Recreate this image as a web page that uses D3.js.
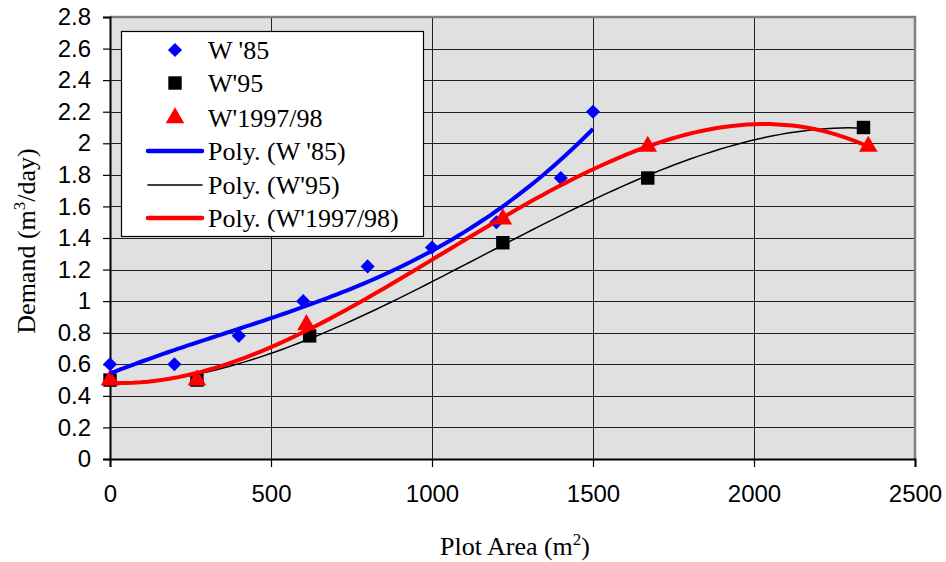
<!DOCTYPE html>
<html>
<head>
<meta charset="utf-8">
<script src="https://cdn.jsdelivr.net/npm/d3@7"></script>
<style>
  body { margin: 0; background: #fff; }
</style>
</head>
<body>
<div id="chart-area"></div>
<script>
// data
var x85 = [0, 200, 400, 600, 800, 1000, 1200, 1400, 1500];
var y85 = [0.6, 0.6, 0.78, 1.0, 1.22, 1.34, 1.5, 1.78, 2.2];

var x95 = [0, 270, 620, 1220, 1670, 2340];
var y95 = [0.5, 0.5, 0.78, 1.37, 1.78, 2.1];

var x97 = [0, 270, 610, 1220, 1670, 2355];
var y97 = [0.5, 0.5, 0.85, 1.52, 1.98, 1.98];

var xTicks = [0, 500, 1000, 1500, 2000, 2500];
var yTicks = [0, 0.2, 0.4, 0.6, 0.8, 1, 1.2, 1.4, 1.6, 1.8, 2, 2.2, 2.4, 2.6, 2.8];

var width = 946, height = 562;
var margin = {top: 17, right: 31, bottom: 103, left: 110};
var w = width - margin.left - margin.right;
var h = height - margin.top - margin.bottom;

var svg = d3.select('#chart-area')
  .append('svg')
    .attr('width', width)
    .attr('height', height);

var g = svg.append('g')
  .attr('transform', 'translate(' + margin.left + ',' + margin.top + ')');

var x = d3.scaleLinear().domain([0, 2500]).range([0, w]);
var y = d3.scaleLinear().domain([0, 2.8]).range([h, 0]);

// plot background
g.append('rect')
  .attr('width', w).attr('height', h)
  .attr('fill', '#e0e0e0');

// grid
g.append('g').selectAll('line').data(yTicks.slice(1)).enter()
  .append('line')
    .attr('x1', 0).attr('x2', w)
    .attr('y1', d => Math.round(y(d)) + 0.5).attr('y2', d => Math.round(y(d)) + 0.5)
    .attr('stroke', '#222').attr('stroke-width', 1);
g.append('g').selectAll('line').data(xTicks.slice(1, -1)).enter()
  .append('line')
    .attr('y1', 0).attr('y2', h)
    .attr('x1', d => Math.round(x(d)) + 0.5).attr('x2', d => Math.round(x(d)) + 0.5)
    .attr('stroke', '#222').attr('stroke-width', 1);

// gray frame top & right
g.append('path')
  .attr('d', 'M0,0H' + w + 'V' + h)
  .attr('fill', 'none').attr('stroke', '#808080').attr('stroke-width', 2.5);

// axes
var yAxis = d3.axisLeft(y).tickValues(yTicks).tickSize(7).tickPadding(12)
  .tickFormat(d3.format('~g'));
var xAxis = d3.axisBottom(x).tickValues(xTicks).tickSize(8).tickPadding(18)
  .tickFormat(d3.format('d'));

var ya = g.append('g').call(yAxis);
var xa = g.append('g').attr('transform', 'translate(0,' + h + ')').call(xAxis);
[ya, xa].forEach(function (a) {
  a.select('.domain').attr('stroke', '#000').attr('stroke-width', 2);
  a.selectAll('.tick line').attr('stroke', '#000').attr('stroke-width', 1.2);
  a.selectAll('text')
    .attr('font-family', 'Liberation Sans, Arial, sans-serif')
    .attr('font-size', '24px')
    .attr('fill', '#000');
});

// polynomial least squares fit
function polyfit(xs, ys, order) {
  var s = 1000;
  var n = order + 1;
  var A = [], b = [];
  for (var i = 0; i < n; i++) {
    A.push(new Array(n).fill(0));
    b.push(0);
  }
  xs.forEach(function (xv, k) {
    var t = xv / s;
    for (var i = 0; i < n; i++) {
      for (var j = 0; j < n; j++) A[i][j] += Math.pow(t, i + j);
      b[i] += ys[k] * Math.pow(t, i);
    }
  });
  // gaussian elimination
  for (var c = 0; c < n; c++) {
    var p = c;
    for (var r = c + 1; r < n; r++) if (Math.abs(A[r][c]) > Math.abs(A[p][c])) p = r;
    var tmp = A[c]; A[c] = A[p]; A[p] = tmp;
    var tb = b[c]; b[c] = b[p]; b[p] = tb;
    for (var r2 = c + 1; r2 < n; r2++) {
      var f = A[r2][c] / A[c][c];
      for (var k2 = c; k2 < n; k2++) A[r2][k2] -= f * A[c][k2];
      b[r2] -= f * b[c];
    }
  }
  var coef = new Array(n).fill(0);
  for (var i2 = n - 1; i2 >= 0; i2--) {
    var sum = b[i2];
    for (var j2 = i2 + 1; j2 < n; j2++) sum -= A[i2][j2] * coef[j2];
    coef[i2] = sum / A[i2][i2];
  }
  return function (xv) {
    var t = xv / s, v = 0;
    for (var i = 0; i < n; i++) v += coef[i] * Math.pow(t, i);
    return v;
  };
}

function trend(xs, ys, order) {
  var f = polyfit(xs, ys, order);
  var lo = d3.min(xs), hi = d3.max(xs);
  return d3.range(0, 101).map(function (i) {
    var xv = lo + (hi - lo) * i / 100;
    return [xv, f(xv)];
  });
}

var line = d3.line().x(d => x(d[0])).y(d => y(d[1]));

var series = [
  {name: "W '85", xs: x85, ys: y85, color: '#0000ff', shape: d3.symbolSquare, size: 100, rot: 45, order: 3, lw: 4},
  {name: "W'95", xs: x95, ys: y95, color: '#000000', shape: d3.symbolSquare, size: 180, rot: 0, order: 3, lw: 1.5},
  {name: "W'1997/98", xs: x97, ys: y97, color: '#ff0000', shape: d3.symbolTriangle, size: 150, rot: 0, order: 3, lw: 4}
];

// markers first, trendlines on top
series.forEach(function (s) {
  g.append('g').selectAll('path').data(s.xs).enter()
    .append('path')
      .attr('d', d3.symbol().type(s.shape).size(s.size))
      .attr('transform', (d, i) => 'translate(' + x(d) + ',' + y(s.ys[i]) + ') rotate(' + s.rot + ')')
      .attr('fill', s.color);
});
series.forEach(function (s) {
  g.append('path')
    .datum(trend(s.xs, s.ys, s.order))
    .attr('d', line)
    .attr('fill', 'none')
    .attr('stroke', s.color)
    .attr('stroke-width', s.lw);
});

// legend
var lg = svg.append('g');
lg.append('rect')
  .attr('x', 121.5).attr('y', 31.5).attr('width', 302).attr('height', 205)
  .attr('fill', '#fff').attr('stroke', '#000').attr('stroke-width', 1.2);

var rowsY = [50, 83, 118, 151, 185, 218];
var legendItems = series.map(s => ({label: s.name, s: s, kind: 'marker'}))
  .concat(series.map(s => ({label: 'Poly. (' + s.name + ')', s: s, kind: 'line'})));

legendItems.forEach(function (it, i) {
  var cy = rowsY[i];
  if (it.kind === 'marker') {
    lg.append('path')
      .attr('d', d3.symbol().type(it.s.shape).size(it.s.size))
      .attr('transform', 'translate(175,' + cy + ') rotate(' + it.s.rot + ')')
      .attr('fill', it.s.color);
  } else {
    lg.append('line')
      .attr('x1', 148).attr('x2', 202).attr('y1', cy).attr('y2', cy)
      .attr('stroke', it.s.color).attr('stroke-width', it.s.lw === 4 ? 4.5 : 1.5)
      .attr('stroke-linecap', 'round');
  }
  lg.append('text')
    .attr('x', 208).attr('y', cy + 9)
    .attr('font-family', 'Liberation Serif, Times New Roman, serif')
    .attr('font-size', '26px')
    .attr('fill', '#000')
    .text(it.label);
});

// axis titles
var yt = svg.append('text')
  .attr('transform', 'translate(35,241) rotate(-90)')
  .attr('text-anchor', 'middle')
  .attr('font-family', 'Liberation Serif, Times New Roman, serif')
  .attr('font-size', '26px');
yt.append('tspan').text('Demand (m');
yt.append('tspan').attr('dy', -10).attr('font-size', '17px').text('3');
yt.append('tspan').attr('dy', 10).text('/day)');

var xt = svg.append('text')
  .attr('x', 515).attr('y', 555)
  .attr('text-anchor', 'middle')
  .attr('font-family', 'Liberation Serif, Times New Roman, serif')
  .attr('font-size', '26px');
xt.append('tspan').text('Plot Area (m');
xt.append('tspan').attr('dy', -10).attr('font-size', '17px').text('2');
xt.append('tspan').attr('dy', 10).text(')');
</script>
</body>
</html>
